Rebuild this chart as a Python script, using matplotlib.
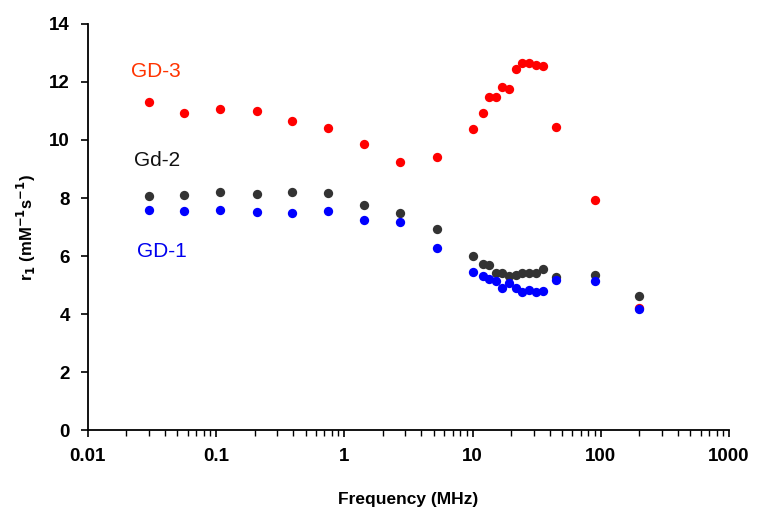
import matplotlib.pyplot as plt
from matplotlib.ticker import LogLocator, NullFormatter, FixedLocator

plt.rcParams['font.family'] = ['Liberation Sans', 'DejaVu Sans']

# data
freq = [0.03, 0.056, 0.107, 0.21, 0.39, 0.74, 1.43, 2.74, 5.25,
        10, 12, 13.4, 15.3, 17, 19.2, 21.9, 24.4, 27.5, 31.4, 35.4, 45, 90, 200]

gd3 = [11.32, 10.93, 11.08, 11.0, 10.66, 10.4, 9.86, 9.24, 9.41,
       10.37, 10.92, 11.49, 11.49, 11.84, 11.75, 12.45, 12.67, 12.64, 12.57, 12.54, 10.43, 7.93, 4.2]
gd2 = [8.08, 8.11, 8.19, 8.13, 8.22, 8.17, 7.77, 7.48, 6.93,
       6.0, 5.71, 5.68, 5.4, 5.4, 5.31, 5.34, 5.43, 5.43, 5.43, 5.57, 5.29, 5.36, 4.62]
gd1 = [7.59, 7.54, 7.6, 7.52, 7.48, 7.54, 7.24, 7.17, 6.27,
       5.46, 5.32, 5.2, 5.15, 4.91, 5.06, 4.89, 4.75, 4.83, 4.75, 4.8, 5.17, 5.15, 4.17]

fig = plt.figure(figsize=(7.57, 5.09), dpi=100)
ax = fig.add_axes([0.116, 0.155, 0.847, 0.798])

ax.scatter(freq, gd3, s=45, color='#ff0000', zorder=3, linewidths=0)
ax.scatter(freq, gd2, s=45, color='#333333', zorder=4, linewidths=0)
ax.scatter(freq, gd1, s=45, color='#0000ff', zorder=5, linewidths=0)

ax.set_xscale('log')
ax.set_xlim(0.01, 1000)
ax.set_ylim(0, 14)
ax.yaxis.set_major_locator(FixedLocator([0, 2, 4, 6, 8, 10, 12, 14]))
ax.xaxis.set_minor_locator(LogLocator(base=10, subs=range(2, 10), numticks=20))
ax.xaxis.set_minor_formatter(NullFormatter())
ax.set_xticks([0.01, 0.1, 1, 10, 100, 1000])
ax.set_xticklabels(['0.01', '0.1', '1', '10', '100', '1000'])

for s in ['top', 'right']:
    ax.spines[s].set_visible(False)
for s in ['left', 'bottom']:
    ax.spines[s].set_linewidth(1.3)

ax.tick_params(which='major', length=5, width=1.2, labelsize=13.5, pad=8)
ax.tick_params(which='minor', length=4, width=1.0)
for lab in ax.get_xticklabels() + ax.get_yticklabels():
    lab.set_fontweight('bold')

ax.set_xlabel('Frequency (MHz)', fontsize=12.5, fontweight='bold', labelpad=19)
ax.set_ylabel(r'r$_\mathbf{1}$ (mM$^\mathbf{-1}$s$^\mathbf{-1}$)', fontsize=12,
              fontweight='bold', labelpad=8)

ax.text(0.0219, 12.18, 'GD-3', color='#ff3300', fontsize=15)
ax.text(0.0229, 9.1, 'Gd-2', color='#111111', fontsize=15)
ax.text(0.0240, 5.98, 'GD-1', color='#0000ee', fontsize=15)

fig.savefig('out.png', dpi=100)
